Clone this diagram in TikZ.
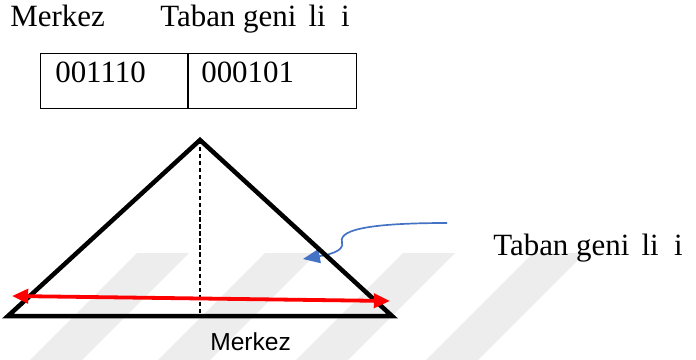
\documentclass[tikz,border=0pt]{standalone}
\usepackage{fontspec}
\usepackage{xcolor,tikz}
\setmainfont{Liberation Serif}
\newfontfamily\arialfont{Liberation Sans}
\usetikzlibrary{arrows.meta,positioning,calc}
\definecolor{wmark}{RGB}{237,237,237}
\definecolor{blu}{RGB}{68,114,196}
\definecolor{red}{RGB}{255,0,0}
\tikzset{
  txt/.style={font=\fontsize{22}{26}\selectfont,inner sep=0pt},
  sans/.style={font=\arialfont\fontsize{17.5}{20}\selectfont,inner sep=0pt},
  cell/.style={draw,line width=.7pt,inner sep=0pt,anchor=north west,minimum height=1.375cm},
  tri/.style={draw,line width=3.2pt,miter limit=20},
  warr/.style={{Triangle[length=11.5pt,width=10pt]}-{Triangle[length=11.5pt,width=10pt]},line width=2.7pt,draw=red},
  barr/.style={-{Triangle[length=12pt,width=10pt]},line width=1.2pt,draw=blu}
}
\begin{document}
\begin{tikzpicture}[x=0.025cm,y=-0.025cm]
  \useasboundingbox (0,0) rectangle (696,360);
  % faint stripes in the background
  \foreach \x in {137,265,403,533}{\fill[wmark] (\x,253) -- ++(52,0) -- ++(-107,107) -- ++(-52,0) -- cycle;}

  \node[txt,anchor=base west] (mtop) at (10,27) {Merkez};
  \node[txt,anchor=base west] (ttop) at (160,27) {Taban geni\hspace{.39em}li\hspace{.5em}i};

  \node[cell,minimum width=3.675cm] (c1) at (40,53) {};
  \node[cell,minimum width=4.2cm] (c2) at (c1.north east) {};
  \node[txt,anchor=base west] (v1) at ($(c1.north west)+(15,30)$) {001110};
  \node[txt,anchor=base west] (v2) at ($(c2.north west)+(13,30)$) {000101};

  \coordinate (bs) at (447,223);
  \coordinate (bt) at (303,259);
  \draw[barr] (bs) .. controls (380,223) and (338,228) .. (342,242) .. controls (345,252) and (326,255) .. (bt);

  \coordinate (apex) at (200,140);
  \coordinate (bl) at (8,316);
  \coordinate (br) at (392,316);
  \coordinate (foot) at (apex |- bl);
  \draw[tri] (apex) -- (br) -- (bl) -- cycle;
  \draw[dashed,line width=.8pt,dash pattern=on 3pt off 2pt] (apex) -- (foot);

  \coordinate (wl) at (12,296);
  \coordinate (wr) at (390,301);
  \draw[warr] (wl) -- (wr);

  \node[sans,anchor=base west] (mbot) at (210,350) {Merkez};
  \node[txt,anchor=base west] (tright) at (493,255) {Taban geni\hspace{.39em}li\hspace{.5em}i};
\end{tikzpicture}
\end{document}
